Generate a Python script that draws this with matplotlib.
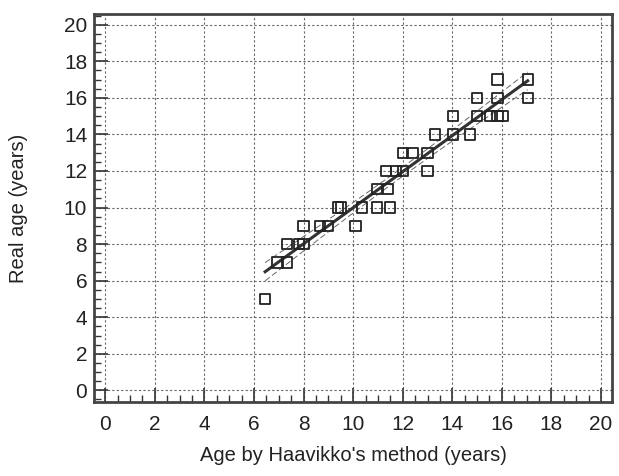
import numpy as np
import matplotlib.pyplot as plt
from matplotlib.ticker import MultipleLocator

plt.rcParams['font.family'] = ['Liberation Sans', 'DejaVu Sans']

# Age by Haavikko's method vs real age
haavikko = np.array([6.45, 6.95, 7.33, 7.33, 7.82, 8.0, 8.0, 8.66, 8.98, 9.4, 9.5,
                     10.1, 10.37, 10.96, 11.49, 10.96, 11.4, 11.32, 11.72, 12.0,
                     13.0, 12.0, 12.4, 13.0, 13.3, 14.03, 14.7, 14.03, 15.0, 15.51,
                     15.82, 16.03, 15.0, 15.82, 17.04, 15.82, 17.04])
real_age = np.array([5, 7, 7, 8, 8, 8, 9, 9, 9, 10, 10,
                     9, 10, 10, 10, 11, 11, 12, 12, 12,
                     12, 13, 13, 13, 14, 14, 14, 15, 15, 15,
                     15, 15, 16, 16, 16, 17, 17])
ticks = [0, 2, 4, 6, 8, 10, 12, 14, 16, 18, 20]

# linear regression + 95% CI of the mean
n = len(haavikko)
slope, icpt = np.polyfit(haavikko, real_age, 1)
xs = np.linspace(haavikko.min(), haavikko.max(), 100)
fit = slope * xs + icpt
resid = real_age - (slope * haavikko + icpt)
s = np.sqrt(np.sum(resid ** 2) / (n - 2))
sxx = np.sum((haavikko - haavikko.mean()) ** 2)
ci = 2.03 * s * np.sqrt(1.0 / n + (xs - haavikko.mean()) ** 2 / sxx)

fig = plt.figure(figsize=(6.19, 4.76), dpi=100)
ax = fig.add_axes([0.152, 0.155, 0.837, 0.816])

ax.grid(True, color='#666666', linestyle=(0, (2, 2)), linewidth=0.8)
ax.plot(xs, fit + ci, color='#666666', linestyle=(0, (6, 3)), linewidth=0.7)
ax.plot(xs, fit - ci, color='#666666', linestyle=(0, (6, 3)), linewidth=0.7)
ax.plot(xs, fit, color='#333333', linewidth=2.2)
ax.scatter(haavikko, real_age, marker='s', s=55, facecolors='none',
           edgecolors='#222222', linewidths=1.3, zorder=3)

ax.set_xlim(-0.45, 20.45)
ax.set_ylim(-0.65, 20.6)
ax.set_xticks(ticks)
ax.set_yticks(ticks)
ax.xaxis.set_minor_locator(MultipleLocator(0.5))
ax.yaxis.set_minor_locator(MultipleLocator(0.5))
ax.tick_params(which='major', direction='in', length=10, width=1.2,
               color='#333333', labelsize=15, labelcolor='#222222',
               top=False, right=False)
ax.tick_params(axis='x', which='major', pad=9)
ax.tick_params(axis='y', which='major', pad=5)
ax.tick_params(which='minor', direction='in', length=5, width=1,
               color='#333333', top=False, right=False)
for sp in ax.spines.values():
    sp.set_linewidth(2)
    sp.set_color('#444444')

ax.set_xlabel("Age by Haavikko's method (years)", fontsize=14.5,
              labelpad=9, color='#222222')
ax.set_ylabel('Real age (years)', fontsize=14.5, labelpad=26, color='#222222')

fig.savefig('out.png', dpi=100)
